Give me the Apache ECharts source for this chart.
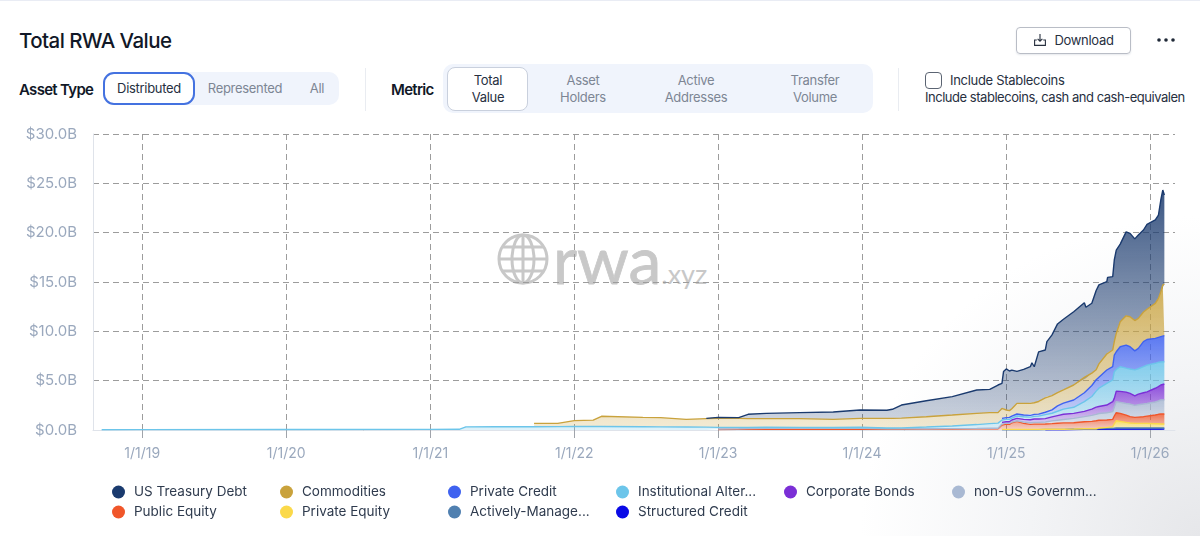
<!DOCTYPE html>
<html>
<head>
<meta charset="utf-8">
<title>Total RWA Value</title>
<script src="https://cdn.jsdelivr.net/npm/echarts@6/dist/echarts.min.js"></script>
<style>
html, body { margin: 0; padding: 0; }
body { width: 1200px; height: 536px; position: relative; overflow: hidden; font-family: Inter, "Noto Sans", sans-serif; color: #1f2937;
  background: radial-gradient(ellipse 340px 320px at 100% 100%, #e6e7ea 0%, #f3f4f6 50%, #ffffff 100%); }
.abs { position: absolute; }
.pill { background: #f0f4fc; }
.c { transform: translate(-50%, -50%); text-align: center; white-space: nowrap; }
.off { color: #7d8694; font-size: 13px; line-height: 17px; letter-spacing: -0.3px; }
.on { color: #27303f; font-size: 13px; line-height: 17px; letter-spacing: -0.3px; }
.lab { transform: translateY(-50%); font-size: 15px; font-weight: 600; color: #111827; white-space: nowrap; letter-spacing: -0.7px; }
.sep { width: 1px; background: #e9ecf1; }
#main { position: absolute; left: 0; top: 0; width: 1200px; height: 536px; }
</style>
</head>
<body>
<div class="abs" style="left:0;top:0;width:1200px;height:1px;background:#e9ecf4"></div>
<div class="abs lab" style="left:19px;top:40px;font-size:20.5px;font-weight:500;letter-spacing:-0.55px">Total RWA Value</div>

<div class="abs" style="left:1016px;top:27px;width:113px;height:25px;border:1px solid #b9bdc6;border-radius:4px;box-shadow:0 1px 2px #e6e8ec"></div>
<svg class="abs" style="left:1033px;top:33px" width="14" height="14" viewBox="0 0 14 14" fill="none" stroke="#27303f" stroke-width="1.1"><path d="M7 1v7M4.6 5.8 7 8.2l2.4-2.4M3.8 7H1.6v5.4h10.8V7h-2.2"/></svg>
<div class="abs on c" style="left:1084px;top:40px">Download</div>
<svg class="abs" style="left:1156px;top:37px" width="20" height="6"><circle cx="3" cy="3" r="1.8" fill="#1f2937"/><circle cx="10" cy="3" r="1.8" fill="#1f2937"/><circle cx="17" cy="3" r="1.8" fill="#1f2937"/></svg>

<div class="abs lab" style="left:19px;top:89px">Asset Type</div>
<div class="abs pill" style="left:103px;top:72px;width:236px;height:33px;border-radius:10px"></div>
<div class="abs" style="left:103px;top:72px;width:88px;height:29px;border:2px solid #4472e0;border-radius:11px;background:#fff"></div>
<div class="abs on c" style="left:149px;top:88px">Distributed</div>
<div class="abs off c" style="left:245px;top:88px">Represented</div>
<div class="abs off c" style="left:317px;top:88px">All</div>
<div class="abs sep" style="left:365px;top:68px;height:43px"></div>

<div class="abs lab" style="left:391px;top:89px">Metric</div>
<div class="abs pill" style="left:443px;top:64px;width:430px;height:49px;border-radius:10px"></div>
<div class="abs" style="left:447px;top:67px;width:79px;height:42px;border:1px solid #c9d0dd;border-radius:8px;background:#fff"></div>
<div class="abs on c" style="left:488px;top:89px">Total<br>Value</div>
<div class="abs off c" style="left:583px;top:89px">Asset<br>Holders</div>
<div class="abs off c" style="left:696px;top:89px">Active<br>Addresses</div>
<div class="abs off c" style="left:815px;top:89px">Transfer<br>Volume</div>
<div class="abs sep" style="left:898px;top:68px;height:43px"></div>

<div class="abs" style="left:925px;top:72px;width:15px;height:15px;border:1px solid #5b6472;border-radius:4px"></div>
<div class="abs on" style="left:950px;top:72px">Include Stablecoins</div>
<div class="abs on" style="left:925px;top:89px;white-space:nowrap;letter-spacing:-0.47px">Include stablecoins, cash and cash-equivalen</div>

<!-- watermark -->
<svg class="abs" style="left:495px;top:231px" width="56" height="56" viewBox="0 0 56 56" fill="none" stroke="#c8c8c8" stroke-width="3">
  <circle cx="28" cy="28" r="24"/><ellipse cx="28" cy="28" rx="11" ry="24"/><path d="M28 4v48M4 28h48M8 16h40M8 40h40"/>
</svg>
<div class="abs" style="left:553px;top:224px;font-size:66px;line-height:70px;color:#c8c8c8;font-family:Lato,Inter,sans-serif;-webkit-text-stroke:0.8px #c8c8c8">rwa<span style="font-size:27px;-webkit-text-stroke:0">.xyz</span></div>

<div id="main"></div>

<script>
var dates = ['2018-09-20','2019-01-01','2020-01-01','2021-01-01','2021-03-15','2021-04-01','2021-06-15','2021-09-20','2021-09-21','2021-11-20',
  '2021-11-25','2022-01-01','2022-02-18','2022-03-11','2022-06-24','2022-08-08','2022-10-12','2022-12-02','2023-01-01','2023-02-22',
  '2023-03-18','2023-05-03','2023-07-27','2023-10-20','2023-12-27','2024-03-04','2024-03-18','2024-03-22','2024-04-10','2024-06-12',
  '2024-08-17','2024-10-18','2024-11-20','2024-12-11','2024-12-21','2024-12-25','2025-01-01','2025-01-09','2025-01-15','2025-01-28',
  '2025-02-14','2025-03-03','2025-03-07','2025-03-13','2025-03-24','2025-04-10','2025-04-14','2025-04-27','2025-05-11','2025-05-26',
  '2025-06-21','2025-07-18','2025-07-22','2025-08-06','2025-08-17','2025-08-24','2025-09-13','2025-09-15','2025-09-28','2025-10-02',
  '2025-10-07','2025-10-17','2025-11-01','2025-11-11','2025-11-23','2025-12-02','2025-12-15','2025-12-24','2026-01-14','2026-01-22',
  '2026-01-28','2026-02-02','2026-02-06'];

// 单位: 十亿美元, 每个序列只是自己这一层的厚度
var structuredCredit = [null,null,null,null,null,null,null,null,null,null,null,null,null,null,null,null,null,null,null,null,
  null,null,null,null,null,null,null,null,null,null,null,null,null,null,null,null,null,null,null,null,
  null,null,null,null,null,.02,.02,.03,.03,.03,.05,.07,.07,.07,.07,.07,.1,.1,.1,.1,.1,.1,.1,.1,.1,.1,.1,.1,.1,.1,.1,.1,.1];
var activelyManaged = [null,null,null,null,null,null,null,null,null,null,null,null,null,null,null,null,null,null,null,null,
  null,null,null,null,null,null,null,null,null,null,null,null,null,null,
  .03,.03,.03,.03,.03,.03,.03,.03,.03,.03,.03,.03,.03,.03,.03,.03,.03,.03,.03,.03,.03,.07,.07,.07,.07,.1,.1,.1,.1,.1,.1,.1,.1,.1,.1,.1,.1,.1,.1];
var privateEquity = [null,null,null,null,null,null,null,null,null,null,null,null,null,null,null,null,null,null,null,null,
  null,null,null,null,null,null,null,null,null,null,null,null,null,null,
  .03,.03,.03,.03,.03,.03,.03,.03,.03,.03,.03,.02,.02,.02,.02,.02,.02,.03,.03,.03,.03,.07,.1,.1,.17,.41,.74,.68,.57,.51,.47,.47,.47,.47,.44,.44,.41,.41,.41];
var publicEquity = [null,null,null,null,null,null,null,null,null,null,null,null,null,null,null,null,null,null,
  .05,.06,.07,.08,.08,.08,.08,.08,.08,.08,.08,.09,.1,.11,.12,.13,
  .44,.51,.54,.51,.68,.81,.61,.51,.54,.54,.54,.54,.54,.57,.61,.64,.64,.71,.71,.74,.81,.78,.74,.74,.74,.81,.81,.81,.74,.64,.61,.64,.68,.74,.88,.95,1.01,1.01,1.01];
var nonUsGov = [null,null,null,null,null,null,null,null,null,null,null,null,null,null,null,null,null,null,
  .05,.06,.07,.08,.08,.08,.08,.04,.04,.04,.04,.04,.04,.04,.05,.05,
  .1,.1,.1,.1,.07,.07,.14,.17,.17,.17,.17,.2,.24,.27,.3,.34,.44,.51,.54,.61,.64,.68,.74,.74,.78,.88,1.11,1.11,1.18,1.28,1.22,1.25,1.28,1.28,1.32,1.35,1.42,1.42,1.42];
var corporateBonds = [null,null,null,null,null,null,null,null,null,null,null,null,null,null,null,null,null,null,null,null,
  null,null,null,null,null,null,null,null,null,null,null,null,null,null,
  .17,.14,.14,.17,.2,.24,.27,.3,.34,.34,.34,.34,.34,.41,.47,.54,.51,.54,.54,.64,.74,.71,.78,.78,1.01,.91,1.08,1.11,1.15,1.08,.95,1.08,1.15,1.18,1.39,1.45,1.52,1.62,1.62];
var institutional = [.03,.04,.05,.06,.07,.32,.33,.33,.33,.34,.34,.35,.35,.35,.33,.32,.3,.29,
  .17,.15,.13,.12,.11,.1,.12,.08,.08,.08,.1,.17,.26,.4,.48,.52,
  .24,.24,.24,.24,.2,.24,.27,.27,.3,.27,.3,.41,.41,.37,.44,.51,.61,.98,1.05,1.28,1.62,1.86,2.2,2.23,2.2,2.7,2.2,2.5,2.43,2.47,2.64,2.57,2.64,2.7,2.53,2.47,2.33,2.26,2.26];
var privateCredit = [null,null,null,null,null,null,null,null,null,null,null,null,null,null,null,null,null,null,null,null,
  null,null,null,null,null,null,null,null,null,null,null,null,null,null,
  .17,.17,.17,.2,.2,.2,.17,.17,.24,.2,.2,.24,.27,.34,.54,.61,.74,.91,.95,1.11,1.15,1.11,1.35,1.35,1.35,1.69,1.79,2.03,2.33,2.26,1.93,2.06,2.53,2.6,2.53,2.53,2.57,2.6,2.64];
var commodities = [null,null,null,null,null,null,null,null,
  .34,.33,.51,.6,.65,1.04,.95,.93,.78,.86,.91,.91,.88,.87,.88,.82,.9,.98,.98,.98,.98,1.05,1.12,1.14,1.11,1.06,
  1.01,.95,.78,.68,.74,1.08,1.18,1.22,1.11,1.18,1.28,1.45,1.52,1.45,1.35,1.35,1.52,1.55,1.32,1.25,1.01,1.35,1.62,1.69,1.69,1.35,1.86,2.53,2.97,3.04,3.07,3.04,3.01,3.07,3.55,3.95,4.56,5.17,5.24];
var usTreasury = [null,null,null,null,null,null,null,null,null,null,null,null,null,null,null,null,null,
  .03,.1,.07,.44,.54,.61,.74,.85,.82,.92,1.07,1.33,1.62,1.86,2.36,2.36,2.8,
  2.53,3.75,4.16,4.02,3.92,3.24,3.45,3.72,4.05,3.65,5.03,4.86,5.57,6.15,6.96,7.16,7.43,7.57,7.2,7.09,8.04,8.01,7.33,7.67,7.43,8.28,8.45,7.87,8.51,8.45,8.28,8.45,8.31,8.61,8.45,8.45,9.29,9.63,9.02];

var xTicks = [2019,2020,2021,2022,2023,2024,2025,2026];

var myChart = echarts.init(document.getElementById('main'), null, { renderer: 'canvas' });

function band(name, color, values) {
	return {
		name: name, type: 'line', stack: 'total', showSymbol: false, symbol: 'none',
		// 数值放第一维, 否则堆叠会加到 x 上
		encode: { x: 1, y: 0 },
		data: dates.map(function(d, i) { return [values[i], new Date(d + 'T00:00:00').getTime()]; }),
		lineStyle: { color: color, width: 1.4 },
		itemStyle: { color: color },
		areaStyle: {
			color: new echarts.graphic.LinearGradient(0, 0, 0, 1, [
				{ offset: 0, color: echarts.color.modifyAlpha(color, 0.85) },
				{ offset: 1, color: echarts.color.modifyAlpha(color, 0.22) }
			]),
			opacity: 1
		}
	};
}

// 图例文字太长时截断
var shortNames = { 'Institutional Alternative Funds': 'Institutional Alter...', 'Actively-Managed Strategies': 'Actively-Manage...', 'non-US Government Debt': 'non-US Governm...' };
var legendCols = [
	['US Treasury Debt', 'Public Equity'],
	['Commodities', 'Private Equity'],
	['Private Credit', 'Actively-Managed Strategies'],
	['Institutional Alternative Funds', 'Structured Credit'],
	['Corporate Bonds'],
	['non-US Government Debt']
];

var ticks = xTicks.map(function(y) { return new Date(y, 0, 1).getTime(); });

myChart.setOption({
	animation: false,
	grid: { left: 93, right: 25, top: 134, bottom: 106 },
	legend: legendCols.map(function(col, i) {
		return {
			data: col, orient: 'vertical', left: 112 + i * 168, top: 485, padding: 0,
			icon: 'circle', itemWidth: 13, itemHeight: 13, itemGap: 6,
			textStyle: { color: '#2f3b4e', fontSize: 13.5, fontFamily: 'Inter', letterSpacing: -0.3, padding: [0, 0, 0, 4] },
			formatter: function(n) { return shortNames[n] || n; }
		};
	}),
	xAxis: {
		type: 'value',
		min: new Date(2018, 7, 29).getTime(),
		max: new Date(2026, 2, 5).getTime(),
		axisLine: { show: true, onZero: false, lineStyle: { color: '#dfe3ea' } },
		axisTick: { show: true, length: 8, customValues: ticks, lineStyle: { color: '#a0a4ab' } },
		axisLabel: {
			customValues: ticks, color: '#9aa8bd', fontSize: 14, fontFamily: 'Inter', margin: 17,
			formatter: function(v) { var d = new Date(v); return (d.getMonth() + 1) + '/' + d.getDate() + '/' + String(d.getFullYear()).slice(2); }
		},
		splitLine: { show: true, lineStyle: { color: '#9c9c9c', type: [6, 4], width: 1 } }
	},
	yAxis: {
		type: 'value', min: 0, max: 30, interval: 5,
		axisLine: { show: true, lineStyle: { color: '#dfe3ea' } },
		axisTick: { show: false },
		axisLabel: { color: '#9aa8bd', fontSize: 15, fontFamily: 'Inter', margin: 16, formatter: function(v) { return '$' + v.toFixed(1) + 'B'; } },
		splitLine: { show: true, lineStyle: { color: '#9c9c9c', type: [6, 4], width: 1 } }
	},
	series: [
		band('Structured Credit', '#0a0ae6', structuredCredit),
		band('Actively-Managed Strategies', '#5080b0', activelyManaged),
		band('Private Equity', '#fbd94a', privateEquity),
		band('Public Equity', '#f0562a', publicEquity),
		band('non-US Government Debt', '#a9b9d3', nonUsGov),
		band('Corporate Bonds', '#7b2fd6', corporateBonds),
		band('Institutional Alternative Funds', '#6cc5ea', institutional),
		band('Private Credit', '#3f62f0', privateCredit),
		band('Commodities', '#c9a23c', commodities),
		band('US Treasury Debt', '#1a3a6e', usTreasury)
	]
});
</script>
</body>
</html>
